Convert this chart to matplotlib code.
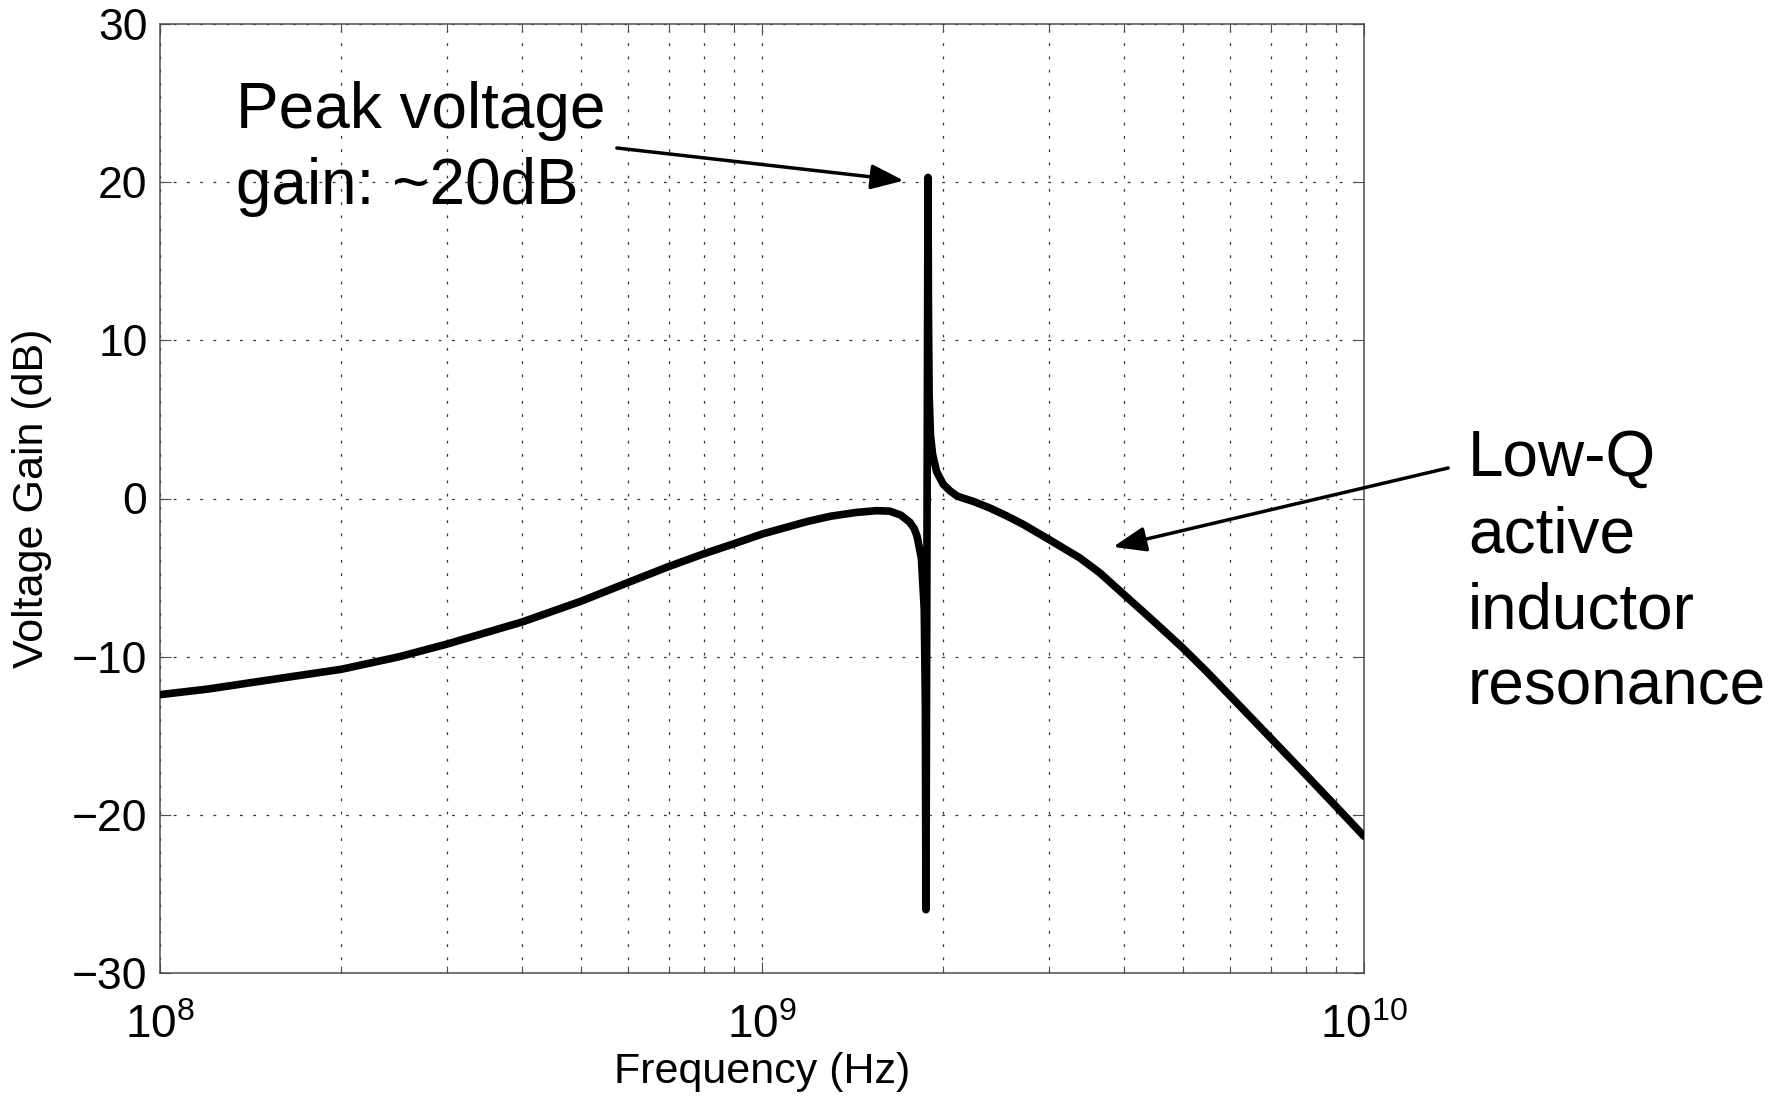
import matplotlib
matplotlib.use("Agg")
import matplotlib.pyplot as plt
from matplotlib.ticker import LogLocator, NullFormatter

plt.rcParams['font.family'] = ['Liberation Sans', 'DejaVu Sans']
plt.rcParams['mathtext.fontset'] = 'custom'
plt.rcParams['mathtext.rm'] = 'Liberation Sans'
plt.rcParams['mathtext.default'] = 'regular'

# frequency response
freq = [1.0e8, 1.2e8, 1.5e8, 2.0e8, 2.5e8, 3.0e8, 4.0e8, 5.0e8, 6.0e8, 7.0e8,
        8.0e8, 9.0e8, 1.0e9, 1.19e9, 1.3e9, 1.435e9, 1.55e9, 1.63e9, 1.70e9,
        1.76e9, 1.79e9, 1.81e9, 1.84e9, 1.86e9, 1.868e9, 1.872e9, 1.887e9,
        1.890e9, 1.895e9, 1.905e9, 1.92e9, 1.95e9, 2.0e9, 2.05e9, 2.11e9,
        2.25e9, 2.39e9, 2.55e9, 2.72e9, 3.0e9, 3.37e9, 3.64e9, 4.0e9, 4.47e9,
        5.0e9, 5.48e9, 6.0e9, 6.51e9, 7.0e9, 8.0e9, 9.0e9, 1.0e10]
gain = [-12.4, -12.05, -11.5, -10.8, -10.0, -9.2, -7.8, -6.5, -5.3, -4.3,
        -3.5, -2.85, -2.25, -1.45, -1.12, -0.88, -0.77, -0.8, -1.05,
        -1.5, -1.9, -2.4, -3.8, -7.0, -13.0, -26.0, 20.3,
        12.0, 6.5, 4.0, 2.8, 1.7, 0.9, 0.5, 0.15,
        -0.2, -0.6, -1.1, -1.65, -2.6, -3.75, -4.7, -6.1, -7.75,
        -9.45, -10.95, -12.5, -13.9, -15.15, -17.45, -19.5, -21.35]

yticks = [-30, -20, -10, 0, 10, 20, 30]
peak_text = ["Peak voltage", "gain: ~20dB"]
lowq_text = ["Low-Q", "active", "inductor", "resonance"]

W, H = 1783, 1098
fig = plt.figure(figsize=(W / 100, H / 100), dpi=100)
ax = fig.add_axes([160 / W, 125 / H, 1204 / W, 949 / H])

ax.semilogx(freq, gain, color='black', lw=5.5, solid_joinstyle='round',
            solid_capstyle='round', zorder=3)

ax.set_xlim(1e8, 1e10)
ax.set_ylim(-30, 30)
ax.set_yticks(yticks)
ax.set_yticklabels([str(v).replace('-', '\u2212') for v in yticks])
ax.xaxis.set_major_locator(LogLocator(base=10, numticks=5))
ax.xaxis.set_minor_locator(LogLocator(base=10, subs=range(2, 10), numticks=20))
ax.xaxis.set_minor_formatter(NullFormatter())

grid_ls = (0, (2.2, 8.4))
ax.grid(True, which='major', axis='both', color='0.2', lw=0.9, ls=grid_ls)
ax.grid(True, which='minor', axis='x', color='0.2', lw=0.9, ls=grid_ls)

for s in ax.spines.values():
    s.set_color('0.3')
    s.set_linewidth(1.1)
ax.tick_params(which='both', direction='in', top=True, right=True,
               color='0.3', width=0.8)
ax.tick_params(which='major', length=8)
ax.tick_params(which='minor', length=5)
ax.tick_params(axis='x', pad=22, labelsize=33)
ax.tick_params(axis='y', pad=9, labelsize=32)

ax.set_xlabel('Frequency (Hz)', fontsize=31)
ax.set_ylabel('Voltage Gain (dB)', fontsize=31)
ax.xaxis.set_label_coords(0.5, -0.083)
ax.yaxis.set_label_coords(-0.09, 0.5)

# annotations
for i, t in enumerate(peak_text):
    fig.text(236 / W, 1 - (128 + 76 * i) / H, t, fontsize=46, va='baseline')
for i, t in enumerate(lowq_text):
    fig.text(1468 / W, 1 - (476 + 76.3 * i) / H, t, fontsize=46, va='baseline')

arrow = dict(arrowstyle='-|>,head_length=1.0,head_width=0.38', color='black',
             lw=2.5, mutation_scale=20, shrinkA=0, shrinkB=0)
ax.annotate('', xy=(1.72e9, 20.1), xytext=(5.74e8, 22.16), arrowprops=arrow,
            annotation_clip=False)
ax.annotate('', xy=(3.83e9, -3.06), xytext=(1.38e10, 1.93), arrowprops=arrow,
            annotation_clip=False)

fig.savefig('out.png', dpi=100, facecolor='white')
